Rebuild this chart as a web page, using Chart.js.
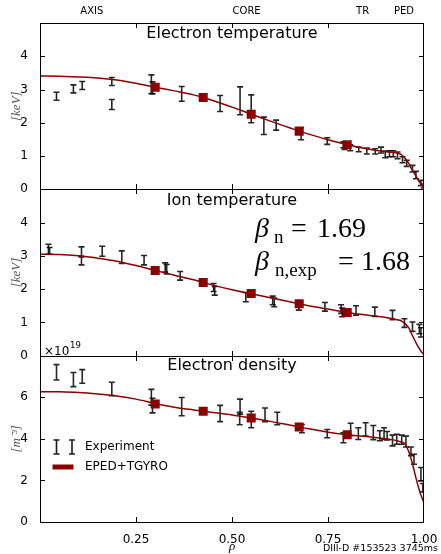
<!DOCTYPE html>
<html><head><meta charset="utf-8">
<script src="https://cdn.jsdelivr.net/npm/chart.js@4"></script>
<style>html,body{margin:0;padding:0;background:#fff;overflow:hidden}</style>
</head><body>
<canvas id="c" width="441" height="554"></canvas>
<script>
// ---------- data ----------
const rho = [0,0.05,0.1,0.15,0.2,0.25,0.3,0.35,0.4,0.425,0.45,0.5,0.55,0.6,0.65,0.675,0.7,0.75,0.8,0.85,0.9,0.92,0.93,0.94,0.95,0.96,0.97,0.98,0.99,1.0];
const teModel = [3.41,3.40,3.38,3.35,3.29,3.19,3.07,2.96,2.84,2.76,2.67,2.47,2.26,2.05,1.85,1.75,1.66,1.49,1.34,1.22,1.13,1.11,1.09,1.05,0.94,0.78,0.57,0.38,0.19,0.05];
const tiModel = [3.05,3.04,3.00,2.93,2.84,2.71,2.56,2.42,2.28,2.20,2.12,1.98,1.86,1.74,1.62,1.56,1.50,1.40,1.30,1.22,1.15,1.11,1.08,1.05,0.97,0.84,0.60,0.37,0.17,0.02];
const neModel = [6.27,6.26,6.23,6.16,6.06,5.91,5.70,5.52,5.39,5.33,5.27,5.15,5.00,4.84,4.66,4.57,4.48,4.32,4.20,4.11,4.00,3.95,3.91,3.85,3.76,3.40,2.80,2.05,1.40,0.92];

const rhoSq = [0.3,0.425,0.55,0.675,0.8];
const teSq = [3.07,2.76,2.26,1.75,1.34];
const tiSq = [2.56,2.20,1.87,1.56,1.30];
const neSq = [5.68,5.33,5.00,4.57,4.20];

const teRho = [0.043,0.087,0.110,0.187,0.187,0.290,0.293,0.369,0.469,0.521,0.550,0.583,0.615,0.680,0.748,0.790,0.793,0.808,0.830,0.851,0.873,0.888,0.899,0.910,0.920,0.931,0.944,0.955,0.970,0.979,0.992,0.999];
const teVal = [2.80,3.02,3.12,3.24,2.55,3.16,3.05,2.87,2.58,2.66,2.42,1.91,1.93,1.67,1.45,1.34,1.30,1.25,1.20,1.15,1.14,1.18,1.05,1.07,1.07,1.02,0.89,0.78,0.62,0.43,0.19,0.10];
const teErr = [0.12,0.12,0.12,0.12,0.15,0.28,0.18,0.22,0.24,0.42,0.42,0.26,0.15,0.18,0.10,0.09,0.10,0.09,0.07,0.09,0.08,0.09,0.10,0.09,0.09,0.10,0.09,0.09,0.10,0.11,0.08,0.06];

const tiRho = [0.022,0.025,0.108,0.108,0.162,0.213,0.271,0.326,0.330,0.365,0.452,0.455,0.536,0.606,0.610,0.674,0.742,0.784,0.787,0.823,0.872,0.918,0.949,0.970,0.988,0.992];
const tiVal = [3.20,3.15,3.12,2.86,3.14,2.96,2.87,2.65,2.60,2.40,2.05,1.95,1.76,1.66,1.60,1.51,1.47,1.40,1.30,1.36,1.32,1.22,0.98,0.87,0.80,0.70];
const tiErr = [0.15,0.10,0.15,0.13,0.15,0.19,0.14,0.14,0.14,0.13,0.12,0.13,0.14,0.13,0.13,0.14,0.13,0.13,0.13,0.14,0.14,0.14,0.13,0.14,0.14,0.14];

const neRho = [0.043,0.087,0.110,0.187,0.290,0.293,0.369,0.469,0.520,0.521,0.550,0.586,0.618,0.682,0.748,0.790,0.809,0.829,0.848,0.868,0.885,0.896,0.904,0.918,0.929,0.942,0.953,0.966,0.974,0.992,0.997];
const neVal = [7.2,6.85,7.0,6.4,6.0,5.6,5.55,5.22,4.98,5.55,4.93,5.15,4.98,4.49,4.25,4.05,4.45,4.25,4.45,4.3,4.15,4.25,4.15,3.92,3.98,3.96,3.87,3.4,3.02,2.3,1.65];
const neErr = [0.37,0.34,0.33,0.32,0.38,0.35,0.44,0.39,0.30,0.36,0.40,0.33,0.30,0.20,0.20,0.24,0.30,0.28,0.32,0.34,0.24,0.28,0.20,0.26,0.24,0.22,0.26,0.21,0.24,0.32,0.20];

const xTicks = [0.25,0.5,0.75,1.0];
const regionPos = [0.135,0.538,0.84,0.948];
const regionLabels = ['AXIS','CORE','TR','PED'];
const panelTitles = {yTe:'Electron temperature', yTi:'Ion temperature', yNe:'Electron density'};

// ---------- helpers ----------
const RED = '#8b0000';
const pts = (xs, ys) => xs.map((x,i)=>({x:x, y:ys[i]}));
Chart.defaults.font.family = '"DejaVu Sans", sans-serif';
Chart.defaults.color = '#000';

function errBar(ctx, x, y1, y2, cap) {
  ctx.beginPath();
  ctx.moveTo(x, y1); ctx.lineTo(x, y2);
  ctx.moveTo(x-cap, y1); ctx.lineTo(x+cap, y1);
  ctx.moveTo(x-cap, y2); ctx.lineTo(x+cap, y2);
  ctx.stroke();
}

const errPlugin = {
  id: 'errbars',
  beforeDatasetsDraw(chart) {
    const ctx = chart.ctx, xs = chart.scales.x, ca = chart.chartArea;
    chart.data.datasets.forEach(ds => {
      if (!ds.yErr) return;
      const ys = chart.scales[ds.yAxisID];
      ctx.save();
      ctx.beginPath(); ctx.rect(ca.left, ys.top, ca.right-ca.left, ys.bottom-ys.top); ctx.clip();
      ctx.strokeStyle = 'rgba(0,0,0,0.85)'; ctx.lineWidth = 1.6;
      ds.data.forEach((p,j) => {
        const px = xs.getPixelForValue(p.x);
        errBar(ctx, px, ys.getPixelForValue(p.y + ds.yErr[j]), ys.getPixelForValue(p.y - ds.yErr[j]), 3);
      });
      ctx.restore();
    });
  }
};

const decorPlugin = {
  id: 'decor',
  afterDraw(chart) {
    const ctx = chart.ctx, ca = chart.chartArea, xs = chart.scales.x, x2 = chart.scales.x2;
    ctx.save();
    const L = Math.round(ca.left), R = Math.round(ca.right);
    ['yTe','yTi','yNe'].forEach(id => {
      const s = chart.scales[id];
      const T = Math.round(s.top), B = Math.round(s.bottom);
      ctx.strokeStyle = '#000'; ctx.lineWidth = 1;
      ctx.strokeRect(L+0.5, T+0.5, R-L-1, B-T);
      // inward ticks
      ctx.beginPath();
      s.ticks.forEach(t => {
        if (t.value <= s.min || t.value >= s.max) return;
        const y = Math.round(s.getPixelForValue(t.value)) + 0.5;
        ctx.moveTo(L, y); ctx.lineTo(L+5, y);
        ctx.moveTo(R, y); ctx.lineTo(R-5, y);
      });
      xTicks.forEach(v => {
        if (v >= 1) return;
        const x = Math.round(xs.getPixelForValue(v)) + 0.5;
        ctx.moveTo(x, T); ctx.lineTo(x, T+5);
        ctx.moveTo(x, B); ctx.lineTo(x, B-5);
      });
      ctx.stroke();
      // panel title
      ctx.fillStyle = '#000';
      ctx.font = '16px "DejaVu Sans"';
      ctx.textAlign = 'center'; ctx.textBaseline = 'middle';
      ctx.fillText(panelTitles[id], (ca.left+ca.right)/2, s.top + (id==='yTi' ? 12 : 10.5));
    });

    // region labels on the top axis
    ctx.font = '10px "DejaVu Sans"';
    ctx.textAlign = 'center'; ctx.textBaseline = 'middle';
    regionPos.forEach((v,i) => ctx.fillText(regionLabels[i], x2.getPixelForValue(v), 11.5));

    // beta annotations
    ctx.textAlign = 'left'; ctx.textBaseline = 'alphabetic';
    ctx.font = 'italic 28px "Liberation Serif"';
    ctx.fillText('β', 255, 237);
    ctx.fillText('β', 255, 270);
    ctx.font = '19px "Liberation Serif"';
    ctx.fillText('n', 274, 243);
    ctx.fillText('n,exp', 275, 276);
    ctx.font = '28px "Liberation Serif"';
    ctx.fillText('=', 291, 237);
    ctx.fillText('1.69', 317, 237);
    ctx.fillText('=', 338, 270);
    ctx.fillText('1.68', 361, 270);

    // offset text x10^19
    const sTi = chart.scales.yTi;
    ctx.font = '12px "DejaVu Sans"';
    ctx.fillText('×10', 44, sTi.bottom - 1);
    ctx.font = '8.5px "DejaVu Sans"';
    ctx.fillText('19', 70, sTi.bottom - 8);

    // legend
    ctx.strokeStyle = 'rgba(0,0,0,0.9)'; ctx.lineWidth = 1.6;
    errBar(ctx, 56.5, 440, 454, 3);
    errBar(ctx, 72, 440, 454, 3);
    ctx.strokeStyle = RED; ctx.lineWidth = 5;
    ctx.beginPath(); ctx.moveTo(52.5, 467); ctx.lineTo(73.5, 467); ctx.stroke();
    ctx.fillStyle = '#000';
    ctx.font = '12px "DejaVu Sans"'; ctx.textBaseline = 'middle';
    ctx.fillText('Experiment', 85, 447);
    ctx.fillText('EPED+TGYRO', 85, 467);

    // footer
    ctx.font = '9.5px "DejaVu Sans"'; ctx.textAlign = 'right';
    ctx.fillText('DIII-D #153523 3745ms', 438, 549);
    ctx.restore();
  }
};

function yAxis(max, step, title) {
  return {
    type: 'linear', position: 'left', stack: 'panels', stackWeight: 1,
    min: 0, max: max,
    grid: {display: false}, border: {display: false},
    ticks: {stepSize: step, padding: 4, color: '#000', font: {size: 12},
            callback: v => (v >= max ? '' : String(v))},
    title: {display: true, text: title, color: '#555',
            font: {family: '"Liberation Serif"', style: 'italic', size: 13},
            padding: {top: 9, bottom: 0}},
    afterFit: s => { s.width = 40; }
  };
}

const lineDs = (id, ys) => ({type:'line', yAxisID:id, xAxisID:'x', data: pts(rho, ys),
  borderColor: RED, borderWidth: 1.5, pointRadius: 0, fill: false, cubicInterpolationMode: 'monotone', order: 2});
const sqDs = (id, ys) => ({type:'scatter', yAxisID:id, xAxisID:'x', data: pts(rhoSq, ys),
  pointStyle: 'rect', pointRadius: 6.4, backgroundColor: RED, borderColor: RED, borderWidth: 0, order: 1});
const expDs = (id, xs, ys, es) => ({type:'scatter', yAxisID:id, xAxisID:'x', data: pts(xs, ys), yErr: es,
  pointRadius: 0, borderWidth: 0, order: 3});

new Chart(document.getElementById('c'), {
  type: 'line',
  data: {datasets: [
    expDs('yTe', teRho, teVal, teErr), lineDs('yTe', teModel), sqDs('yTe', teSq),
    expDs('yTi', tiRho, tiVal, tiErr), lineDs('yTi', tiModel), sqDs('yTi', tiSq),
    expDs('yNe', neRho, neVal, neErr), lineDs('yNe', neModel), sqDs('yNe', neSq)
  ]},
  options: {
    responsive: false, animation: false,
    layout: {padding: {left: 0, right: 17, top: 0, bottom: 0}},
    plugins: {legend: {display: false}, tooltip: {enabled: false}},
    scales: {
      x: {type: 'linear', position: 'bottom', min: 0, max: 1,
          grid: {display: false}, border: {display: false},
          afterBuildTicks: s => { s.ticks = xTicks.map(v => ({value: v})); },
          ticks: {padding: 3, color: '#000', font: {size: 12}, maxRotation: 0, autoSkip: false,
                  callback: v => v.toFixed(2)},
          title: {display: true, text: 'ρ', color: '#000',
                  font: {family: '"Liberation Serif"', style: 'italic', size: 13}, padding: {top: 0, bottom: 0}},
          afterFit: s => { s.height = 32; }},
      x2: {type: 'linear', position: 'top', min: 0, max: 1,
          grid: {display: false}, border: {display: false},
          ticks: {display: false},
          afterFit: s => { s.height = 23; }},
      yNe: yAxis(8, 2, '[m⁻³]'),
      yTi: yAxis(5, 1, '[keV]'),
      yTe: yAxis(5, 1, '[keV]')
    }
  },
  plugins: [errPlugin, decorPlugin]
});
</script>
</body></html>
